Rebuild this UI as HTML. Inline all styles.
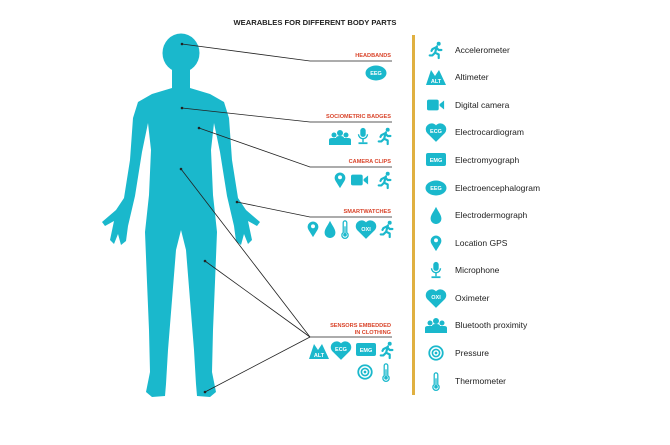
<!DOCTYPE html>
<html><head><style>
body{margin:0;background:#fff;}
svg{display:block;font-family:"Liberation Sans",sans-serif;}
.lg{font-size:8.5px;fill:#222;}
.rl{font-size:5.6px;font-weight:bold;fill:#d9442a;text-anchor:end;}
.it{font-size:5.5px;fill:#fff;text-anchor:middle;font-weight:bold;}
</style></head><body>
<svg width="670" height="445" viewBox="0 0 670 445">
<defs>
<symbol id="run" viewBox="-10 -10 20 20" overflow="visible"><g fill="none" stroke="#1ab8cc" stroke-width="2.4" stroke-linecap="round" stroke-linejoin="round"><path d="M1,-4 L-1,3 L3,5 L3,9 M-1,3 L-4,6 L-7,6 M0,-3 L-4,-1 L-5,1 M0,-3 L3,0 L6,0"/></g><circle cx="3" cy="-7" r="2.2" fill="#1ab8cc"/></symbol>
<symbol id="pin" viewBox="-10 -10 20 20" overflow="visible"><path d="M0,9 L-5,1 A6,6 0 1,1 5,1 Z" fill="#1ab8cc"/><circle cx="0" cy="-3" r="2.2" fill="#fff"/></symbol>
<symbol id="cam" viewBox="-10 -10 20 20" overflow="visible"><rect x="-10" y="-6" width="13" height="12" rx="2" fill="#1ab8cc"/><path d="M4,-1 L9,-5 L9,5 L4,1Z" fill="#1ab8cc"/></symbol>
<symbol id="drop" viewBox="-10 -10 20 20" overflow="visible"><path d="M0,-9 C3,-3 6,0 6,4 A6,6 0 0,1 -6,4 C-6,0 -3,-3 0,-9Z" fill="#1ab8cc"/></symbol>
<symbol id="thermo" viewBox="-10 -10 20 20" overflow="visible"><path d="M-2,4 L-2,-7 A2,2 0 0,1 2,-7 L2,4 A3.5,3.5 0 1,1 -2,4Z" fill="#fff" stroke="#1ab8cc" stroke-width="1.4"/><circle cx="0" cy="6.5" r="2" fill="#1ab8cc"/><rect x="-0.7" y="-3" width="1.4" height="9" fill="#1ab8cc"/></symbol>
<symbol id="heart" viewBox="-10 -10 20 20" overflow="visible"><path d="M0,9 L-8,1 A4.5,4.5 0 0,1 0,-6 A4.5,4.5 0 0,1 8,1Z" fill="#1ab8cc"/></symbol>
<symbol id="mic" viewBox="-10 -10 20 20" overflow="visible"><rect x="-3" y="-9" width="6" height="10" rx="3" fill="#1ab8cc"/><path d="M-5,-2 A5,5 0 0,0 5,-2" fill="none" stroke="#1ab8cc" stroke-width="1.5"/><rect x="-0.8" y="3" width="1.6" height="4" fill="#1ab8cc"/><rect x="-5" y="7" width="10" height="2" fill="#1ab8cc"/></symbol>
<symbol id="grp" viewBox="-10 -10 20 20" overflow="visible"><g fill="#1ab8cc"><circle cx="-6" cy="-2" r="2.5"/><circle cx="6" cy="-2" r="2.5"/><circle cx="0" cy="-4" r="3"/><path d="M-11,8 L-11,3 Q-11,1 -8,1 L8,1 Q11,1 11,3 L11,8Z"/><path d="M-4,8 L-4,1 Q-4,-1 0,-1 Q4,-1 4,1 L4,8Z"/></g></symbol>
<symbol id="tgt" viewBox="-10 -10 20 20" overflow="visible"><circle r="7.5" fill="none" stroke="#1ab8cc" stroke-width="2"/><circle r="4" fill="none" stroke="#1ab8cc" stroke-width="1.8"/><circle r="1.5" fill="#1ab8cc"/></symbol>
<symbol id="alt" viewBox="-10 -10 20 20" overflow="visible"><path d="M-10,8 L-5,-7 L-1,-1 L3,-7 L10,8Z" fill="#1ab8cc"/></symbol>
</defs>

<text x="315" y="25" text-anchor="middle" font-size="7.6" font-weight="bold" fill="#222">WEARABLES FOR DIFFERENT BODY PARTS</text>

<g fill="#1ab8cc">
<ellipse cx="181" cy="53" rx="18.5" ry="19.5"/>
<path d="M172,66 L172,88 L152,94 L138,102 L133,118 L130,160 L124,198 L116,210 L102,222 L105,226 L114,221 L110,240 L114,244 L118,234 L121,245 L126,241 L128,226 L135,196 L142,152 L148,123 L151,150 L149,195 L145,232 L147,282 L149,330 L150,372 L146,392 L152,397 L165,396 L166,384 L168,350 L172,300 L176,250 L181,230 L186,250 L190,300 L194,350 L196,384 L197,396 L210,397 L216,392 L212,372 L213,330 L215,282 L217,232 L213,195 L211,150 L214,123 L220,152 L227,196 L234,226 L236,241 L241,245 L244,234 L248,244 L252,240 L248,221 L257,226 L260,222 L246,210 L238,198 L232,160 L229,118 L224,102 L210,94 L190,88 L190,66Z"/>
</g>

<g stroke="#222" stroke-width="0.8" fill="none">
<path d="M182,44 L310,61 L392,61"/>
<path d="M182,108 L310,122 L392,122"/>
<path d="M199,128 L310,167 L392,167"/>
<path d="M237,202 L310,217 L392,217"/>
<path d="M181,169 L310,337 L392,337"/>
<path d="M205,261 L310,337"/>
<path d="M205,392 L310,337"/>
</g>
<g fill="#222"><circle cx="182" cy="44" r="1.3"/><circle cx="182" cy="108" r="1.3"/><circle cx="199" cy="128" r="1.3"/><circle cx="237" cy="202" r="1.3"/><circle cx="181" cy="169" r="1.3"/><circle cx="205" cy="261" r="1.3"/><circle cx="205" cy="392" r="1.3"/></g>

<text class="rl" x="391" y="57">HEADBANDS</text>
<text class="rl" x="391" y="118">SOCIOMETRIC BADGES</text>
<text class="rl" x="391" y="163">CAMERA CLIPS</text>
<text class="rl" x="391" y="213">SMARTWATCHES</text>
<text class="rl" x="391" y="327">SENSORS EMBEDDED</text>
<text class="rl" x="391" y="334">IN CLOTHING</text>

<ellipse cx="376" cy="73" rx="10.5" ry="7.5" fill="#1ab8cc"/><text class="it" x="376" y="75">EEG</text>
<use href="#grp" x="330" y="127" width="20" height="20"/>
<use href="#mic" x="354" y="127" width="18" height="18"/>
<use href="#run" x="376" y="127" width="18" height="18"/>
<use href="#pin" x="331" y="171" width="18" height="18"/>
<use href="#cam" x="351" y="171" width="18" height="18"/>
<use href="#run" x="376" y="171" width="18" height="18"/>
<use href="#pin" x="304" y="220" width="18" height="18"/>
<use href="#drop" x="321" y="220" width="18" height="18"/>
<use href="#thermo" x="336" y="220" width="18" height="18"/>
<use href="#heart" x="355" y="218" width="22" height="22"/><text class="it" x="366" y="231">OXI</text>
<use href="#run" x="378" y="220" width="18" height="18"/>
<use href="#alt" x="309" y="341" width="20" height="20"/><text class="it" x="319" y="357">ALT</text>
<use href="#heart" x="330" y="339" width="22" height="22"/><text class="it" x="341" y="351">ECG</text>
<rect x="356" y="343" width="20" height="13" rx="2" fill="#1ab8cc"/><text class="it" x="366" y="352">EMG</text>
<use href="#run" x="378" y="341" width="18" height="18"/>
<use href="#tgt" x="356" y="363" width="18" height="18"/>
<use href="#thermo" x="377" y="363" width="18" height="18"/>

<rect x="412" y="35" width="3" height="360" fill="#e0b040"/>

<use href="#run" x="427" y="41" width="18" height="18"/><text class="lg" x="455" y="53">Accelerometer</text>
<use href="#alt" x="426" y="67" width="20" height="20"/><text class="it" x="436" y="83">ALT</text><text class="lg" x="455" y="80">Altimeter</text>
<use href="#cam" x="427" y="96" width="18" height="18"/><text class="lg" x="455" y="108">Digital camera</text>
<use href="#heart" x="425" y="121" width="22" height="22"/><text class="it" x="436" y="133">ECG</text><text class="lg" x="455" y="135">Electrocardiogram</text>
<rect x="426" y="153" width="20" height="13" rx="2" fill="#1ab8cc"/><text class="it" x="436" y="162">EMG</text><text class="lg" x="455" y="163">Electromyograph</text>
<ellipse cx="436" cy="188" rx="10.5" ry="7.5" fill="#1ab8cc"/><text class="it" x="436" y="190">EEG</text><text class="lg" x="455" y="191">Electroencephalogram</text>
<use href="#drop" x="427" y="206" width="18" height="18"/><text class="lg" x="455" y="218">Electrodermograph</text>
<use href="#pin" x="427" y="234" width="18" height="18"/><text class="lg" x="455" y="246">Location GPS</text>
<use href="#mic" x="427" y="261" width="18" height="18"/><text class="lg" x="455" y="273">Microphone</text>
<use href="#heart" x="425" y="287" width="22" height="22"/><text class="it" x="436" y="299">OXI</text><text class="lg" x="455" y="301">Oximeter</text>
<use href="#grp" x="425" y="315" width="22" height="20"/><text class="lg" x="455" y="328">Bluetooth proximity</text>
<use href="#tgt" x="427" y="344" width="18" height="18"/><text class="lg" x="455" y="356">Pressure</text>
<use href="#thermo" x="427" y="372" width="18" height="18"/><text class="lg" x="455" y="384">Thermometer</text>
</svg>
</body></html>
